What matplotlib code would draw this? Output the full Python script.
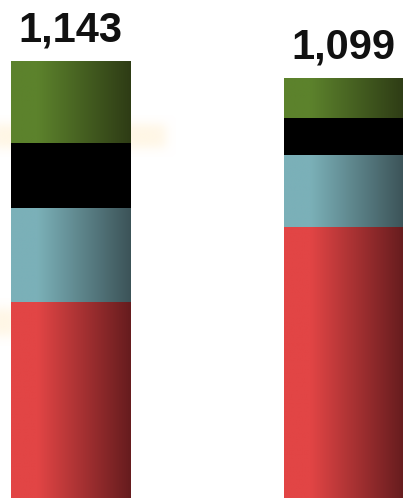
import numpy as np
import matplotlib
matplotlib.use("Agg")
import matplotlib.pyplot as plt
from matplotlib.colors import LinearSegmentedColormap, to_rgb

plt.rcParams["font.family"] = ["Liberation Sans", "DejaVu Sans"]

# stacked segments, bottom to top
totals = [1143, 1099]
red_vals = [513, 710]
teal_vals = [246, 186]
black_vals = [170, 99]
green_vals = [214, 104]

# left (light) / right (dark) shades of each segment
SHADES = {
    "red": ("#e24545", "#661c1e"),
    "teal": ("#7bb0b8", "#3c5358"),
    "black": ("#000000", "#000000"),
    "green": ("#5c822c", "#2e3c15"),
}

BAR_W = 0.436
X_POS = [0, 1]


def shade_cmap(name):
    light, dark = SHADES[name]
    return LinearSegmentedColormap.from_list(
        name, [(0.0, light), (0.22, light), (1.0, dark)])


def soft_blob(ax, x0, x1, y0, y1, soft, color="#fff3da", alpha=0.7):
    """Blurred pale rectangle drawn behind the bars."""
    nx, ny = 300, 120
    xs = np.linspace(x0 - 3 * soft[0], x1 + 3 * soft[0], nx)
    ys = np.linspace(y0 - 3 * soft[1], y1 + 3 * soft[1], ny)
    gx = 1 / (1 + np.exp(-(xs - x0) / soft[0])) * 1 / (1 + np.exp((xs - x1) / soft[0]))
    gy = 1 / (1 + np.exp(-(ys - y0) / soft[1])) * 1 / (1 + np.exp((ys - y1) / soft[1]))
    rgba = np.zeros((ny, nx, 4))
    rgba[..., :3] = to_rgb(color)
    rgba[..., 3] = alpha * np.outer(gy, gx)
    ax.imshow(rgba, extent=[xs[0], xs[-1], ys[0], ys[-1]], origin="lower",
              aspect="auto", zorder=1, interpolation="bilinear")


fig = plt.figure(figsize=(4.03, 4.98), dpi=100)
ax = fig.add_axes([0, 0, 1, 1])
ax.set_axis_off()

# faint haze behind the first bar
soft_blob(ax, -0.30, 0.35, 915, 975, (0.012, 8))
soft_blob(ax, -0.30, -0.20, 425, 495, (0.01, 9))

grad = np.linspace(0, 1, 256).reshape(1, -1)
for i, x in enumerate(X_POS):
    bottom = 0
    for name, vals in [("red", red_vals), ("teal", teal_vals),
                       ("black", black_vals), ("green", green_vals)]:
        h = vals[i]
        ax.imshow(grad, cmap=shade_cmap(name), aspect="auto", zorder=2,
                  extent=[x - BAR_W / 2, x + BAR_W / 2, bottom, bottom + h],
                  origin="lower", interpolation="bilinear")
        bottom += h
    ax.text(x, totals[i] + 50, f"{totals[i]:,}", ha="center", va="baseline",
            fontsize=30, fontweight="bold", color="#111111", zorder=3)

ax.set_xlim(-0.258, 1.218)
ax.set_ylim(0, 1302.5)

fig.savefig("out.png", dpi=100)
